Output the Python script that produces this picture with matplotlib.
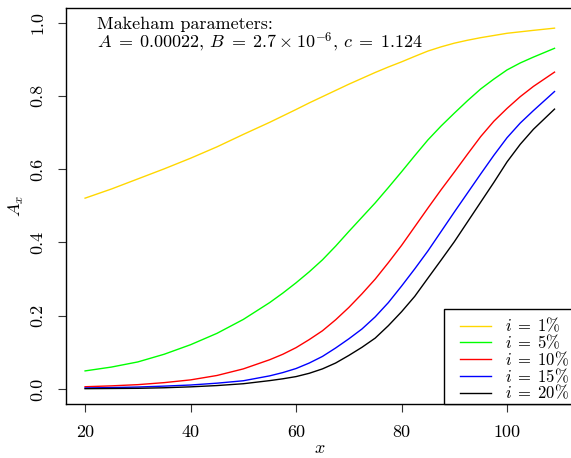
import numpy as np
import matplotlib
matplotlib.use('Agg')
from matplotlib import pyplot as plt
from matplotlib.patches import Rectangle

# Whole life insurance A_x under Makeham mortality
ages = [20, 25, 30, 35, 40, 45, 50, 55, 57.5, 60, 62.5, 65, 67.5, 70, 72.5, 75,
        77.5, 80, 82.5, 85, 87.5, 90, 92.5, 95, 97.5, 100, 102.5, 105, 109]

ax_1pct = [0.521, 0.546, 0.5735, 0.601, 0.630, 0.661, 0.695, 0.728, 0.7455, 0.763,
           0.781, 0.798, 0.815, 0.832, 0.848, 0.864, 0.879, 0.893, 0.908, 0.9225,
           0.934, 0.944, 0.952, 0.959, 0.965, 0.971, 0.975, 0.979, 0.985]
ax_5pct = [0.0495, 0.060, 0.074, 0.095, 0.121, 0.152, 0.190, 0.236, 0.262, 0.290,
           0.320, 0.3526, 0.390, 0.430, 0.469, 0.508, 0.550, 0.593, 0.637, 0.680,
           0.718, 0.753, 0.787, 0.819, 0.846, 0.871, 0.890, 0.906, 0.930]
ax_10pct = [0.0063, 0.0087, 0.012, 0.0175, 0.025, 0.037, 0.055, 0.080, 0.095, 0.113,
            0.135, 0.159, 0.189, 0.2226, 0.260, 0.300, 0.345, 0.392, 0.443, 0.494,
            0.544, 0.592, 0.641, 0.689, 0.731, 0.766, 0.798, 0.826, 0.865]
ax_15pct = [0.003, 0.004, 0.0055, 0.008, 0.011, 0.016, 0.0226, 0.036, 0.045, 0.056,
            0.071, 0.089, 0.112, 0.137, 0.164, 0.197, 0.236, 0.281, 0.328, 0.377,
            0.430, 0.483, 0.535, 0.587, 0.638, 0.686, 0.726, 0.760, 0.812]
ax_20pct = [0.001, 0.0015, 0.002, 0.0035, 0.006, 0.0095, 0.0145, 0.023, 0.028, 0.034,
            0.043, 0.055, 0.071, 0.0917, 0.114, 0.139, 0.173, 0.211, 0.253, 0.3027,
            0.352, 0.402, 0.456, 0.510, 0.564, 0.620, 0.668, 0.709, 0.764]

series = [ax_1pct, ax_5pct, ax_10pct, ax_15pct, ax_20pct]
labels = [r'$i\;=\;1\%$', r'$i\;=\;5\%$', r'$i\;=\;10\%$', r'$i\;=\;15\%$', r'$i\;=\;20\%$']
colours = ['#FFD700', '#00FF00', '#FF0000', '#0000FF', '#000000']

xticks = [20, 40, 60, 80, 100]
yticks = [0.0, 0.2, 0.4, 0.6, 0.8, 1.0]
ytick_labels = ['0.0', '0.2', '0.4', '0.6', '0.8', '1.0']


def main():
    plt.rcParams['font.family'] = 'serif'
    plt.rcParams['font.serif'] = ['cmr10']
    plt.rcParams['mathtext.fontset'] = 'cm'
    plt.rcParams['axes.formatter.use_mathtext'] = True

    W, H = 571, 458
    fig = plt.figure(figsize=(W / 100, H / 100), dpi=100)
    left, right, top, bottom = 66.3, 573.3, 8.0, 403.7
    ax = fig.add_axes([left / W, 1 - bottom / H, (right - left) / W, (bottom - top) / H])

    handles = []
    for vals, col in zip(series, colours):
        ln, = ax.plot(ages, vals, color=col, lw=1.0)
        handles.append(ln)

    ax.set_xlim(16.44, 112.56)
    ax.set_ylim(-0.04, 1.04)
    ax.set_xticks(xticks)
    ax.set_xticklabels([str(t) for t in xticks])
    ax.set_yticks(yticks)
    ax.set_yticklabels(ytick_labels, rotation=90, va='center')
    ax.tick_params(direction='out', length=6, width=0.8, labelsize=13, color='#333333')
    ax.tick_params(axis='x', pad=9)
    ax.tick_params(axis='y', pad=9)
    for sp in ax.spines.values():
        sp.set_linewidth(1.0)

    ax.set_xlabel(r'$x$', fontsize=13)
    ax.xaxis.set_label_coords(0.5, -0.113)
    ax.xaxis.label.set_va('center')
    ax.set_ylabel(r'$A_x$', fontsize=13)
    ax.yaxis.set_label_coords(-0.099, 0.5)
    ax.yaxis.label.set_va('center')

    fig.text(96.7 / W, 1 - 29.3 / H, 'Makeham parameters:', fontsize=13, va='baseline')
    fig.text(96.7 / W, 1 - 48.3 / H,
             r'$A\;=\;0.00022$, $B\;=\;2.7 \times 10^{-6}$, $c\;=\;1.124$',
             fontsize=13, va='baseline')

    # R style legend box, flush with the bottom right corner of the plot region
    box = Rectangle((444.3 / W, 1 - 403.7 / H), (585 - 444.3) / W, (403.7 - 308.7) / H,
                    transform=fig.transFigure, facecolor='white', edgecolor='black',
                    lw=1.0, zorder=2)
    fig.add_artist(box)
    fig.legend(handles, labels, loc='upper left',
               bbox_to_anchor=(460 / W, 1 - 316.0 / H), bbox_transform=fig.transFigure,
               fontsize=12, frameon=False, borderpad=0, borderaxespad=0,
               handlelength=1.86, handletextpad=0.84, labelspacing=-0.1)

    fig.savefig('out.png', dpi=100)


if __name__ == '__main__':
    main()
